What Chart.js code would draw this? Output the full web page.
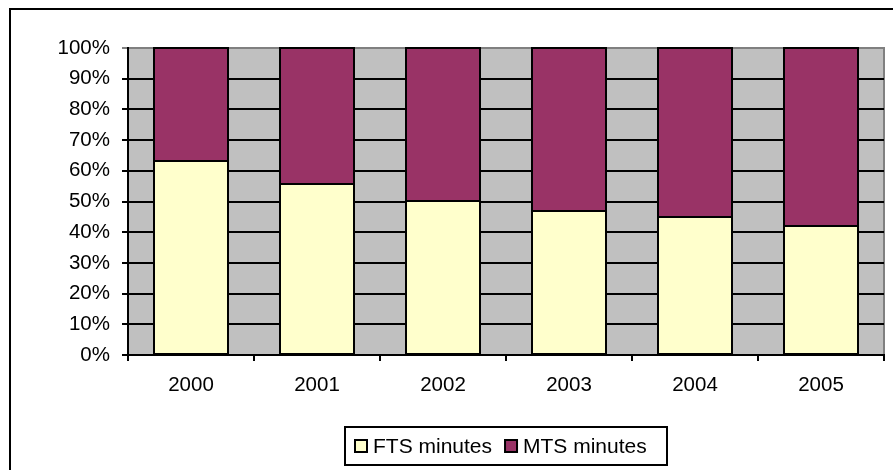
<!DOCTYPE html>
<html>
<head>
<meta charset="utf-8">
<script src="https://cdn.jsdelivr.net/npm/chart.js@4.4.1/dist/chart.umd.min.js"></script>
<style>
    html, body { margin: 0; padding: 0; background: #fff; }
    #wrap { width: 893px; height: 470px; }
</style>
</head>
<body>
<div id="wrap"><canvas id="minutesChart" width="893" height="470"></canvas></div>
<script>
const years = ['2000', '2001', '2002', '2003', '2004', '2005'];
const ftsShare = [63.2, 55.8, 50.3, 47.0, 44.8, 41.9];
const mtsShare = [36.8, 44.2, 49.7, 53.0, 55.2, 58.1];
const seriesNames = ['FTS minutes', 'MTS minutes'];
const seriesColors = ['#FFFFCC', '#993366'];
const percentTicks = [0, 10, 20, 30, 40, 50, 60, 70, 80, 90, 100];

const FONT = { family: 'Liberation Sans, Arial, sans-serif', size: 20.5 };
const LEGEND_FONT = '21px Liberation Sans, Arial, sans-serif';

// outer frame, grey plot background, bar outlines and boxed legend
const excelFrame = {
    id: 'excelFrame',
    beforeDraw(chart) {
        const ctx = chart.ctx;
        const a = chart.chartArea;
        ctx.save();
        ctx.strokeStyle = '#000';
        ctx.lineWidth = 2;
        ctx.strokeRect(10, 9, 1000, 1000);

        ctx.fillStyle = '#C0C0C0';
        ctx.fillRect(a.left, a.top, a.right - a.left, a.bottom - a.top);
        ctx.strokeStyle = '#808080';
        ctx.strokeRect(a.left, a.top, a.right - a.left, a.bottom - a.top);
        ctx.restore();
    },
    afterDatasetsDraw(chart) {
        const ctx = chart.ctx;
        ctx.save();
        ctx.strokeStyle = '#000';
        ctx.lineWidth = 2;
        chart.data.datasets.forEach((ds, i) => {
            chart.getDatasetMeta(i).data.forEach(bar => {
                const { x, y, base, width } = bar.getProps(['x', 'y', 'base', 'width'], true);
                ctx.strokeRect(Math.round(x - width / 2), Math.round(y), Math.round(width), Math.round(base - y));
            });
        });
        ctx.restore();
    },
    afterDraw(chart) {
        const ctx = chart.ctx;
        ctx.save();
        ctx.strokeStyle = '#000';
        ctx.lineWidth = 2;
        ctx.strokeRect(345, 427, 322, 38);

        ctx.font = LEGEND_FONT;
        ctx.textBaseline = 'middle';
        let x = 355;
        const y = 446;
        chart.data.datasets.forEach(ds => {
            ctx.fillStyle = ds.backgroundColor;
            ctx.fillRect(x, y - 6, 12, 12);
            ctx.lineWidth = 2;
            ctx.strokeRect(x, y - 6, 12, 12);
            ctx.fillStyle = '#000';
            ctx.fillText(ds.label, x + 18, y + 1);
            x += 18 + ctx.measureText(ds.label).width + 13;
        });
        ctx.restore();
    }
};

const barStyle = {
    borderWidth: 0,
    categoryPercentage: 1,
    barPercentage: 0.588
};

new Chart(document.getElementById('minutesChart'), {
    type: 'bar',
    data: {
        labels: years,
        datasets: [
            { label: seriesNames[0], data: ftsShare, backgroundColor: seriesColors[0], ...barStyle },
            { label: seriesNames[1], data: mtsShare, backgroundColor: seriesColors[1], ...barStyle }
        ]
    },
    options: {
        responsive: false,
        animation: false,
        layout: { padding: { top: 48, right: 9, left: 0, bottom: 0 } },
        plugins: {
            legend: { display: false },
            tooltip: { enabled: false }
        },
        scales: {
            x: {
                stacked: true,
                offset: true,
                grid: {
                    offset: true,
                    drawOnChartArea: false,
                    color: '#000',
                    lineWidth: 2,
                    tickLength: 6
                },
                border: { color: '#000', width: 2 },
                ticks: { color: '#000', font: FONT, padding: 12, maxRotation: 0 },
                afterFit(axis) { axis.height = 115; }
            },
            y: {
                stacked: true,
                min: 0,
                max: 100,
                afterBuildTicks(axis) {
                    axis.ticks = percentTicks.map(v => ({ value: v }));
                },
                grid: {
                    color: ctx => ctx.tick && ctx.tick.value === 100 ? '#808080' : '#000',
                    lineWidth: 2,
                    tickLength: 6
                },
                border: { color: '#000', width: 2 },
                ticks: {
                    color: '#000',
                    font: FONT,
                    padding: 12,
                    callback: v => v + '%'
                },
                afterFit(axis) { axis.width = 128; }
            }
        }
    },
    plugins: [excelFrame]
});
</script>
</body>
</html>
